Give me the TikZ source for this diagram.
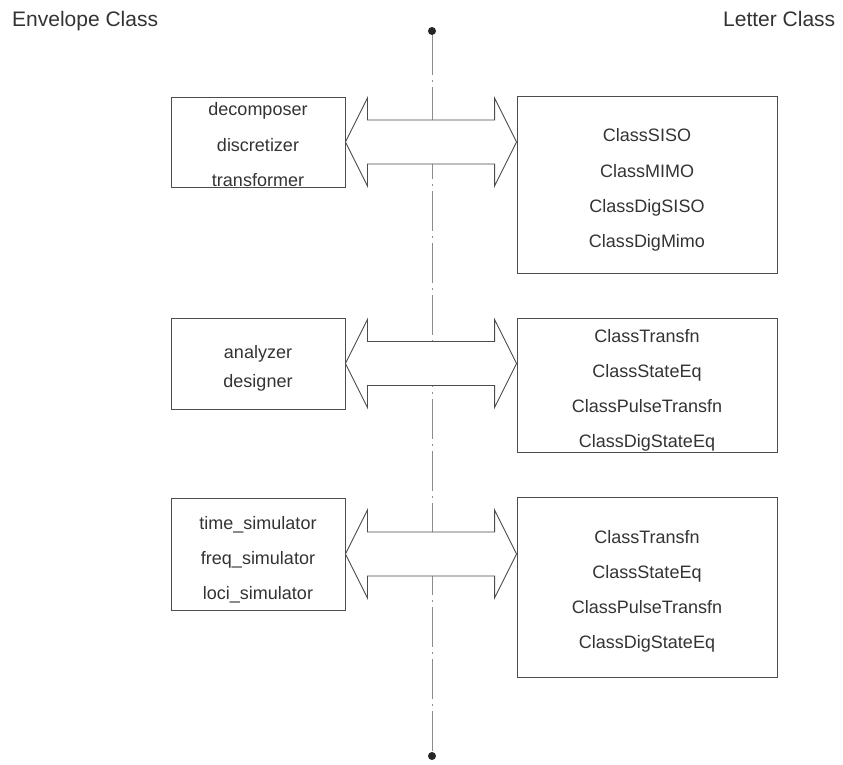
\documentclass[tikz,border=0pt]{standalone}
\usepackage{fontspec}
\setmainfont{Liberation Sans}
\usetikzlibrary{calc}
\begin{document}
\begin{tikzpicture}[x=1pt,y=-1pt,
  box/.style={draw=black!70, line width=0.9pt, rectangle, inner sep=0pt, minimum width=#1},
  lbl/.style={anchor=base, inner sep=0pt, text=black!80, font=\fontsize{18}{20}\selectfont},
  hdr/.style={anchor=base west, inner sep=0pt, text=black!80, font=\fontsize{21}{24}\selectfont},
  bigarrow/.style={draw=black!70, line width=0.9pt, fill=white, line join=miter},
  axisline/.style={draw=black!45, line width=0.9pt, dash pattern=on 40pt off 5pt on 2pt off 5pt},
  dotmark/.style={fill=black!85, draw=none, circle, minimum size=8pt, inner sep=0pt}]
\useasboundingbox (0,0) rectangle (843,765);

% headers
\node[hdr] (envh) at (12,27) {Envelope Class};
\node[hdr] (leth) at (723,27) {Letter Class};

% axis
\node[dotmark] (top) at (432,31) {};
\node[dotmark] (bot) at (432,756) {};
\draw[axisline] (top) -- (bot);

% boxes
\node[box=174pt, minimum height=90pt] (L1) at (258,142) {};
\node[box=174pt, minimum height=91pt] (L2) at (258,363.5) {};
\node[box=174pt, minimum height=112pt] (L3) at (258,554) {};
\node[box=260pt, minimum height=177pt] (R1) at (647,184.5) {};
\node[box=260pt, minimum height=134pt] (R2) at (647,385) {};
\node[box=260pt, minimum height=180pt] (R3) at (647,587) {};

% arrows
\foreach \l/\r in {L1/R1, L2/R2, L3/R3}{
  \draw[bigarrow] (\l.east) -- ++(22,-44) -- ++(0,22)
    -- ($(\r.west |- \l.east)+(-22,-22)$) -- ++(0,-22)
    -- (\r.west |- \l.east) -- ++(-22,44) -- ++(0,-22)
    -- ($(\l.east)+(22,22)$) -- ++(0,22) -- cycle;
}

% left texts
\node[lbl] (t11) at (258,116) {decomposer};
\node[lbl] (t12) at (258,151) {discretizer};
\node[lbl] (t13) at (258,186) {transformer};
\node[lbl] (t21) at (258,358) {analyzer};
\node[lbl] (t22) at (258,387) {designer};
\node[lbl] (t31) at (258,529) {time\_simulator};
\node[lbl] (t32) at (258,564) {freq\_simulator};
\node[lbl] (t33) at (258,599) {loci\_simulator};

% right texts
\node[lbl] (r11) at (647,142) {ClassSISO};
\node[lbl] (r12) at (647,177) {ClassMIMO};
\node[lbl] (r13) at (647,212) {ClassDigSISO};
\node[lbl] (r14) at (647,247) {ClassDigMimo};
\node[lbl] (r21) at (647,342) {ClassTransfn};
\node[lbl] (r22) at (647,377) {ClassStateEq};
\node[lbl] (r23) at (647,412) {ClassPulseTransfn};
\node[lbl] (r24) at (647,447) {ClassDigStateEq};
\node[lbl] (r31) at (647,543) {ClassTransfn};
\node[lbl] (r32) at (647,578) {ClassStateEq};
\node[lbl] (r33) at (647,613) {ClassPulseTransfn};
\node[lbl] (r34) at (647,648) {ClassDigStateEq};
\end{tikzpicture}
\end{document}
